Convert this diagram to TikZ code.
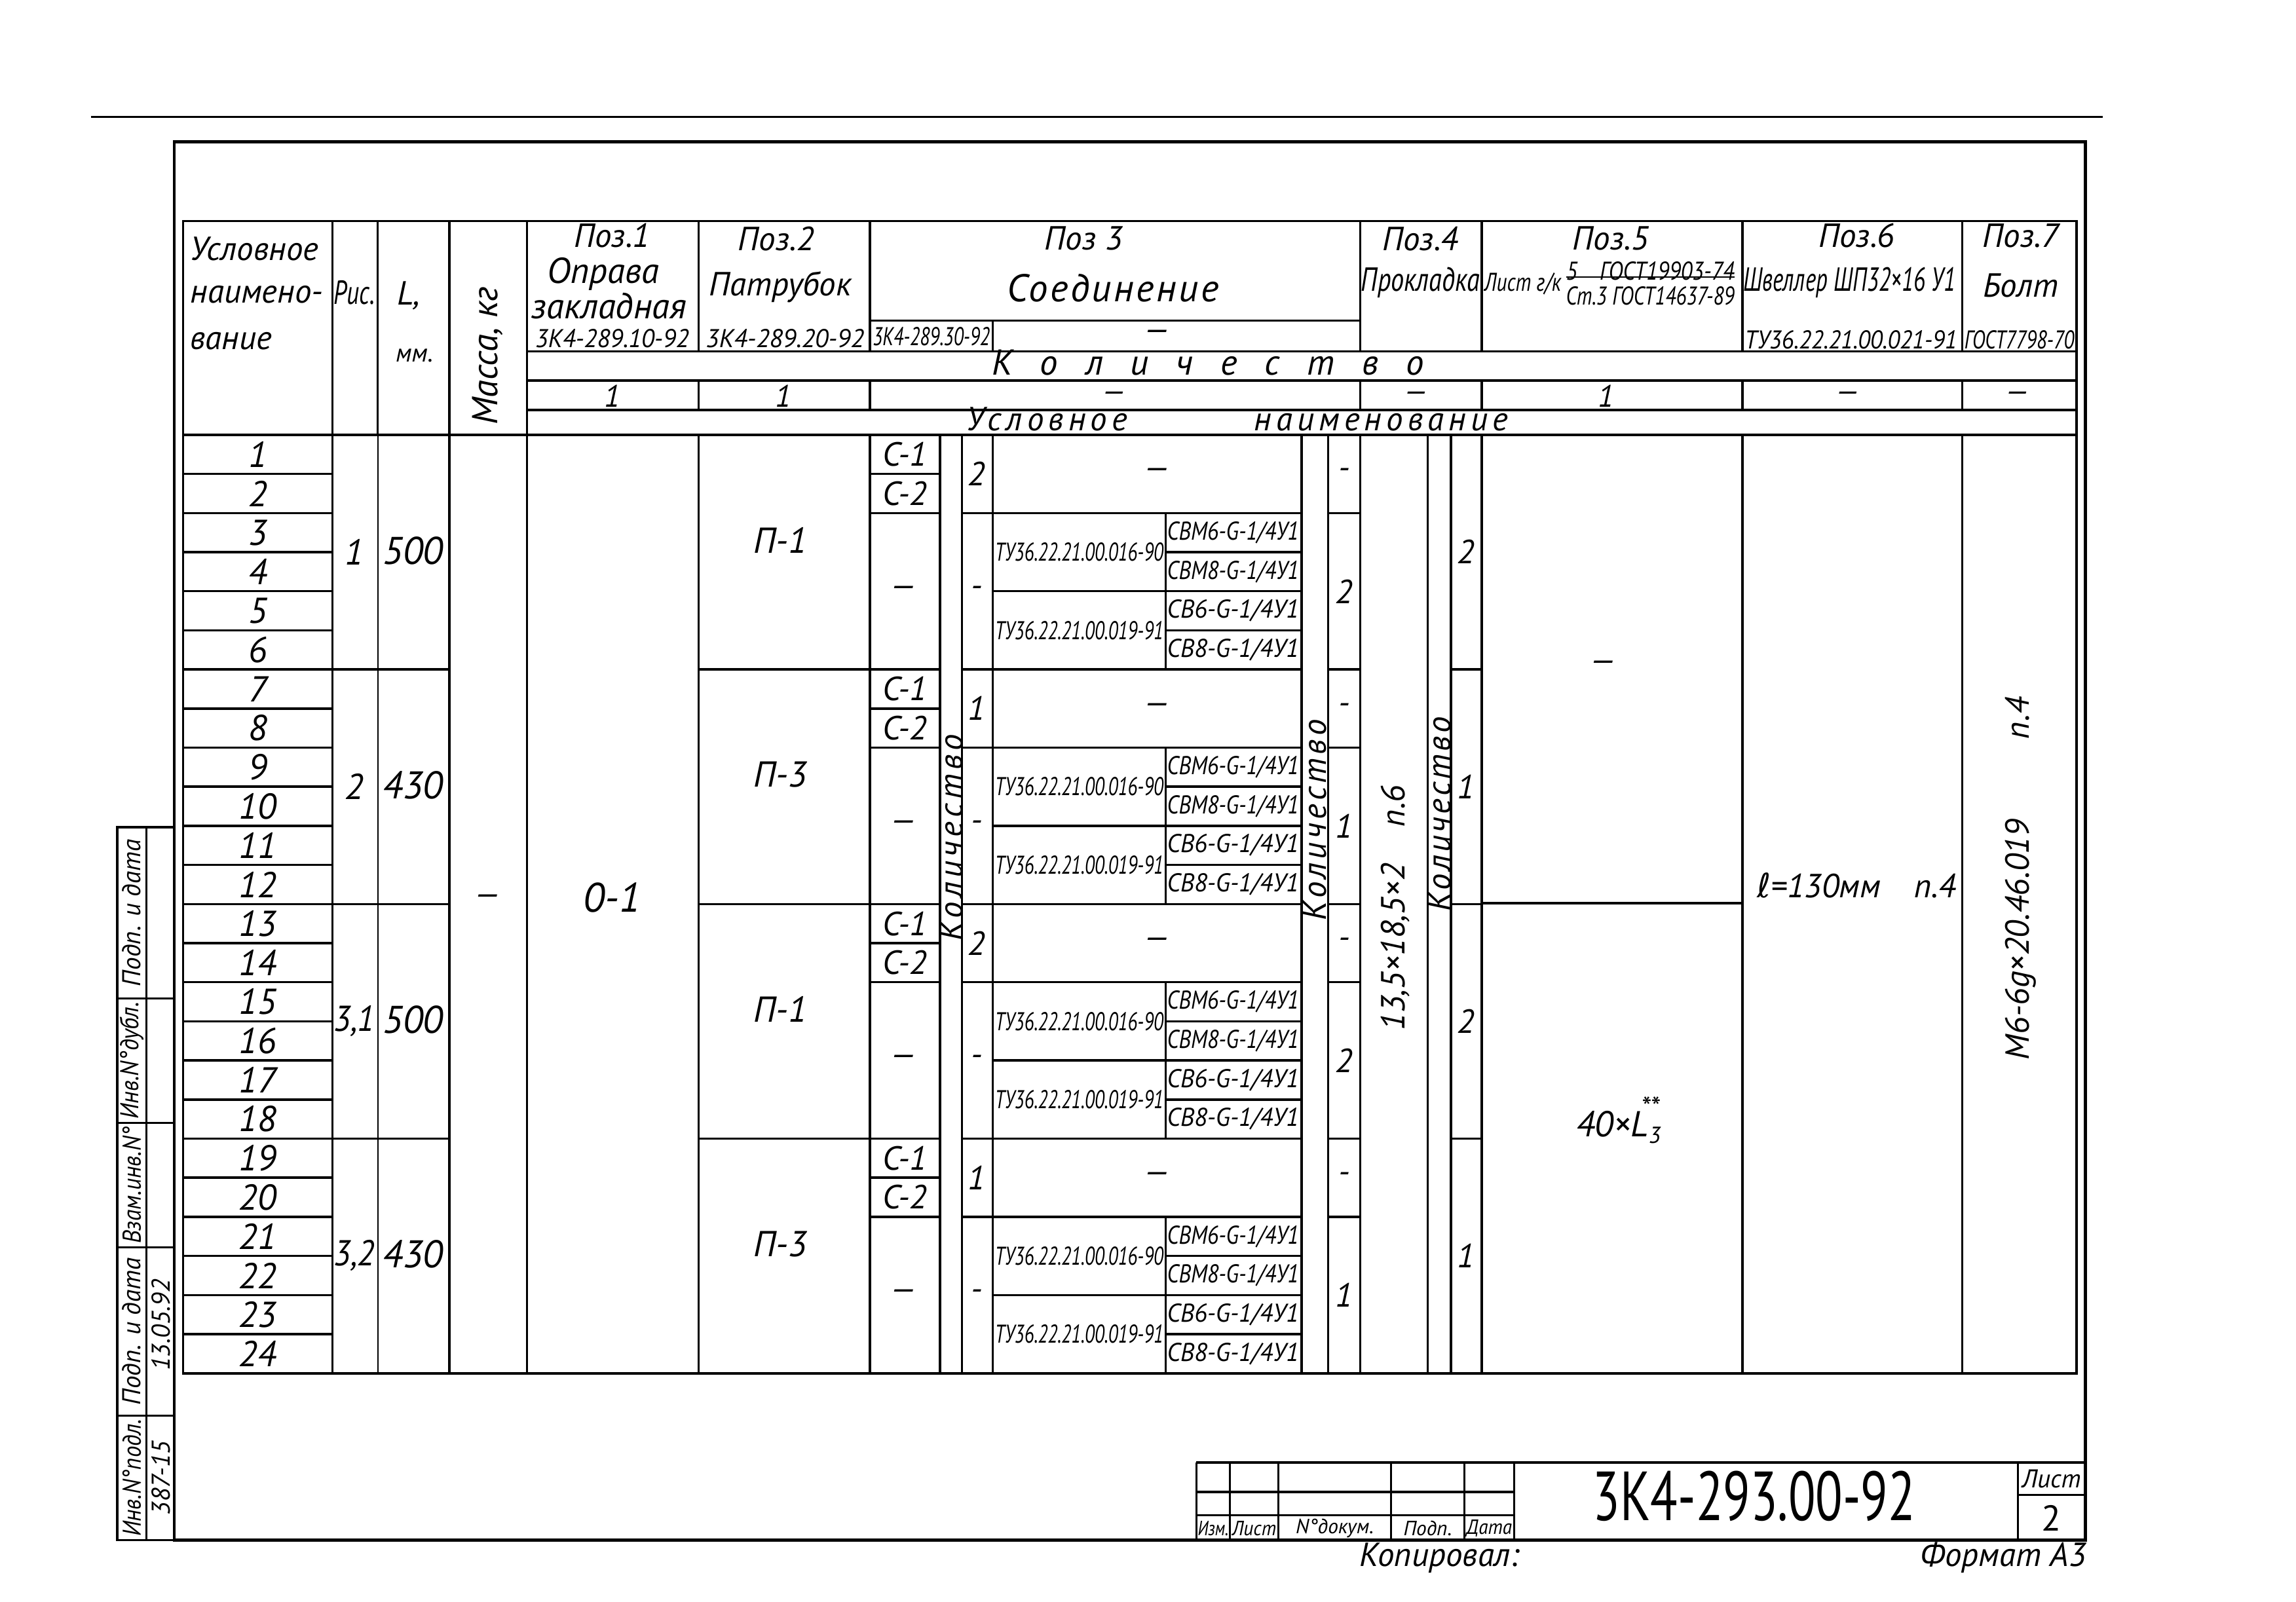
\documentclass[tikz,border=0pt]{standalone}
\usepackage{fontspec}
\setmainfont{PT Sans}
\newfontfamily\djv{DejaVu Sans}
\usepackage{graphicx}
\newsavebox\fitbx
\newcommand\fitto[2]{\sbox\fitbx{#2}\ifdim\wd\fitbx>#1\relax\resizebox{#1}{\ht\fitbx}{\usebox\fitbx}\else\usebox\fitbx\fi}
\newcommand\fsz[1]{\fontsize{#1}{#1}\selectfont\itshape}
\begin{document}
\begin{tikzpicture}[x=0.02cm,y=-0.02cm,
  T/.style={inner sep=0pt,outer sep=0pt,font=\fsz{13}},
  S/.style={inner sep=0pt,outer sep=0pt,font=\fsz{10}},
  grid/.style={line width=0.9pt},
  thin/.style={line width=0.5pt},
  frame/.style={line width=1.2pt}]
\useasboundingbox (0,0) rectangle (1568,1094);
% top rule and frame
\draw[line width=0.8pt] (62,80) -- (1436,80);
\draw[frame] (119,97) rectangle (1424,1052);
% table outline
\draw[grid] (125,151) rectangle (1418,938);
% header lines
\foreach \x in {227,258,307,360} \draw[grid] (\x,151) -- (\x,297);
\draw[grid] (360,240) -- (1418,240);
\draw[grid] (360,260) -- (1418,260);
\draw[grid] (360,280) -- (1418,280);
\draw[grid] (125,297) -- (1418,297);
\foreach \x in {477,594,929,1012,1190,1340} \draw[grid] (\x,151) -- (\x,240) (\x,260) -- (\x,280);
\draw[grid] (594,219) -- (929,219);
\draw[grid] (678,219) -- (678,240);
% body verticals
\foreach \x in {227,307,360,477,594,642,657,678,889,907,929,975,991,1012,1190,1340} \draw[grid] (\x,297) -- (\x,938);
\draw[thin] (258,297) -- (258,938);
% row lines of first column
\foreach \i in {1,...,23} \draw[grid] (125,{297+26.708*\i}) -- (227,{297+26.708*\i});
% group lines
\foreach \g in {1,2,3} {
  \pgfmathsetmacro\yy{297+160.25*\g}
  \draw[grid] (227,\yy) -- (307,\yy);
  \draw[grid] (477,\yy) -- (642,\yy);
  \draw[grid] (657,\yy) -- (889,\yy);
  \draw[grid] (907,\yy) -- (929,\yy);
  \draw[grid] (991,\yy) -- (1012,\yy);
}
\draw[grid] (1012,617) -- (1190,617);
% lines inside groups
\foreach \g in {0,...,3} {
  \pgfmathsetmacro\yz{297+160.25*\g}
  \draw[grid] (594,{\yz+26.708}) -- (642,{\yz+26.708});
  \draw[grid] (594,{\yz+53.417}) -- (642,{\yz+53.417});
  \draw[grid] (657,{\yz+53.417}) -- (889,{\yz+53.417});
  \draw[grid] (907,{\yz+53.417}) -- (929,{\yz+53.417});
  \draw[grid] (796,{\yz+53.417}) -- (796,{\yz+160.25});
  \draw[grid] (796,{\yz+80.125}) -- (889,{\yz+80.125});
  \draw[grid] (678,{\yz+106.83}) -- (889,{\yz+106.83});
  \draw[grid] (796,{\yz+133.54}) -- (889,{\yz+133.54});
}
% ---------- header texts
\node[T,anchor=west] (h1a) at (130,170) {\fitto{1.85cm}{Условное}};
\node[T,anchor=west] (h1b) at (130,201) {\fitto{1.85cm}{наимено-}};
\node[T,anchor=west] (h1c) at (130,233) {вание};
\node[T] (hric) at (242,200) {\fitto{0.56cm}{Рис.}};
\node[T] (hL) at (279,202) {L,};
\node[T,font=\fsz{10}] (hmm) at (283,243) {мм.};
\node[T,rotate=90,font=\fsz{14}] (hmass) at (333,243) {Масса, кг};
\node[T] (p1a) at (418,161) {Поз.1};
\node[T,font=\fsz{14}] (p1b) at (412,187) {Оправа};
\node[T,font=\fsz{14}] (p1c) at (416,209) {\fitto{2.2cm}{закладная}};
\node[S] (p1d) at (418,231) {\fitto{2.1cm}{3К4-289.10-92}};
\node[T] (p2a) at (530,163) {Поз.2};
\node[T] (p2b) at (533,196) {\fitto{2.0cm}{Патрубок}};
\node[S] (p2c) at (536,231) {\fitto{2.2cm}{3К4-289.20-92}};
\node[T] (p3a) at (740,163) {Поз 3};
\node[T,font=\fsz{15}] (p3b) at (760,197) {\addfontfeature{LetterSpace=6}Соединение};
\node[S] (p3c) at (636,230) {\fitto{1.6cm}{3К4-289.30-92}};
\node[T] (p3d) at (790,229) {—};
\node[T] (p4a) at (970,163) {Поз.4};
\node[T] (p4b) at (970,193) {\fitto{1.62cm}{Прокладка}};
\node[T] (p5a) at (1100,163) {Поз.5};
\node[S] (p5b) at (1040,194) {\fitto{1.05cm}{Лист г/к}};
\node[S] (p5c) at (1127,185) {\fitto{2.3cm}{5\quad ГОСТ19903-74}};
\node[S] (p5d) at (1127,202) {\fitto{2.3cm}{Ст.3 ГОСТ14637-89}};
\draw[thin] (p5c.south west) ++(0,-2) coordinate (fr1) -- (p5c.south east |- fr1);
\node[T] (p6a) at (1268,161) {Поз.6};
\node[T] (p6b) at (1263,193) {\fitto{2.9cm}{Швеллер ШП32×16 У1}};
\node[S] (p6c) at (1264,232) {\fitto{2.9cm}{ТУ36.22.21.00.021-91}};
\node[T] (p7a) at (1380,161) {Поз.7};
\node[T] (p7b) at (1380,195) {Болт};
\node[S] (p7c) at (1379,232) {\fitto{1.5cm}{ГОСТ7798-70}};
\node[T,font=\fsz{14},anchor=base] (kol) at (825,256) {\makebox[5.9cm][s]{К\hfil о\hfil л\hfil и\hfil ч\hfil е\hfil с\hfil т\hfil в\hfil о}};
\node[T,font=\fsz{12}] (q1) at (418,270.5) {1};
\node[T,font=\fsz{12}] (q2) at (535,270.5) {1};
\node[T,font=\fsz{12}] (q3) at (761,271) {—};
\node[T,font=\fsz{12}] (q4) at (967,271) {—};
\node[T,font=\fsz{12}] (q5) at (1097,270.5) {1};
\node[T,font=\fsz{12}] (q6) at (1262,271) {—};
\node[T,font=\fsz{12}] (q7) at (1378,271) {—};
\node[T,font=\fsz{13},anchor=base] (usl) at (845,294) {\addfontfeature{LetterSpace=14}\makebox[7.4cm][s]{Условное\hfil наименование}};
% ---------- body texts
\foreach \i in {1,...,24} \node[T,font=\fsz{14}] (n\i) at (176,{297+26.708*(\i-0.5)}) {\i};
\foreach \g/\ric/\len/\pp/\qa in {0/1/500/П-1/2, 1/2/430/П-3/1, 2/{3,1}/500/П-1/2, 3/{3,2}/430/П-3/1} {
  \pgfmathsetmacro\yz{297+160.25*\g}
  \node[T,font=\fsz{14}] (ric\g) at (242,{\yz+80}) {\fitto{0.56cm}{\ric}};
  \node[T,font=\fsz{15}] (len\g) at (282,{\yz+79}) {\len};
  \node[T,font=\fsz{14}] (pp\g) at (533,{\yz+72}) {\pp};
  \node[T] (ca\g) at (618,{\yz+13.35}) {\fitto{0.85cm}{С-1}};
  \node[T] (cb\g) at (618,{\yz+40.06}) {\fitto{0.85cm}{С-2}};
  \node[T] (cd\g) at (617,{\yz+107}) {—};
  \node[T] (qa\g) at (667,{\yz+26.7}) {\qa};
  \node[T] (qad\g) at (667,{\yz+107}) {-};
  \node[T] (dd\g) at (790,{\yz+26.7}) {—};
  \node[S] (tua\g) at (737,{\yz+80.1}) {\fitto{2.3cm}{ТУ36.22.21.00.016-90}};
  \node[S] (tub\g) at (737,{\yz+133.5}) {\fitto{2.3cm}{ТУ36.22.21.00.019-91}};
  \node[S] (sva\g) at (842,{\yz+66.8}) {\fitto{1.8cm}{СВМ6-G-1/4У1}};
  \node[S] (svb\g) at (842,{\yz+93.5}) {\fitto{1.8cm}{СВМ8-G-1/4У1}};
  \node[S] (svc\g) at (842,{\yz+120.2}) {\fitto{1.8cm}{СВ6-G-1/4У1}};
  \node[S] (svd\g) at (842,{\yz+146.9}) {\fitto{1.8cm}{СВ8-G-1/4У1}};
  \node[T] (qbd\g) at (918,{\yz+26.7}) {-};
  \node[T] (qb\g) at (918,{\yz+107}) {\qa};
  \node[T] (qc\g) at (1001,{\yz+80}) {\qa};
}
\node[T] (mass) at (333,615) {—};
\node[T,font=\fsz{16}] (o1) at (418,613) {0-1};
\node[T,rotate=90] (kv1) at (649.5,572) {\addfontfeature{LetterSpace=12}Количество};
\node[T,rotate=90] (kv2) at (898,560) {\addfontfeature{LetterSpace=10}Количество};
\node[T,rotate=90] (kv3) at (983,556) {\addfontfeature{LetterSpace=8}Количество};
\node[T,rotate=90] (pr) at (953,620) {13,5×18,5×2\hspace{0.5cm}п.6};
\node[T] (p5t) at (1095,455) {—};
\node[T,font=\fsz{14}] (p5b2) at (1105,765) {40×L\raisebox{-0.35ex}{\fontsize{9}{9}\selectfont 3}\hspace{-0.55em}\raisebox{1.1ex}{\fontsize{11}{11}\selectfont **}};
\node[T] (p6t) at (1268,605) {{\djv\itshape ℓ}=130мм\quad п.4};
\node[T,rotate=90] (p7t) at (1380,600) {М6-6g×20.46.019\hspace{1.1cm}п.4};
% ---------- left stamp
\draw[grid] (80,565) rectangle (119,1052);
\draw[grid] (100,565) -- (100,1052);
\foreach \y in {682,767,852,967} \draw[grid] (80,\y) -- (119,\y);
\node[T,font=\fsz{10},rotate=90] (st1) at (90,623.5) {\fitto{2.2cm}{Подп. и дата}};
\node[T,font=\fsz{10},rotate=90] (st2) at (90,724.5) {\fitto{1.6cm}{Инв.N°дубл.}};
\node[T,font=\fsz{10},rotate=90] (st3) at (90,809.5) {\fitto{1.6cm}{Взам.инв.N°}};
\node[T,font=\fsz{10},rotate=90] (st4) at (90,909.5) {\fitto{2.2cm}{Подп. и дата}};
\node[T,font=\fsz{10},rotate=90] (st5) at (90,1009.5) {\fitto{1.6cm}{Инв.N°подл.}};
\node[T,font=\fsz{10},rotate=90] (sv4) at (110,905) {\fitto{2.0cm}{13.05.92}};
\node[T,font=\fsz{10},rotate=90] (sv5) at (110,1009.5) {\fitto{1.6cm}{387-15}};
% ---------- title block
\draw[grid] (817,999) -- (1424,999);
\draw[grid] (817,999) -- (817,1052);
\foreach \x in {840,873,950,1000,1034,1378} \draw[grid] (\x,999) -- (\x,1052);
\draw[grid] (817,1019) -- (1034,1019);
\draw[grid] (817,1035) -- (1034,1035);
\draw[grid] (1378,1021) -- (1424,1021);
\node[T,font=\fsz{8}] (tb1) at (828.5,1044) {\fitto{0.42cm}{Изм.}};
\node[T,font=\fsz{8}] (tb2) at (856.5,1044) {\fitto{0.6cm}{Лист}};
\node[T,font=\fsz{8}] (tb3) at (911.5,1044) {\fitto{1.45cm}{N°докум.}};
\node[T,font=\fsz{8}] (tb4) at (975,1044) {\fitto{0.9cm}{Подп.}};
\node[T,font=\fsz{8}] (tb5) at (1017,1044) {\fitto{0.62cm}{Дата}};
\node[inner sep=0pt,font=\fontsize{27}{27}\selectfont] (title) at (1198,1022) {\scalebox{0.72}[1]{3К4-293.00-92}};
\node[T,font=\fsz{10}] (tbl) at (1401,1010) {Лист};
\node[inner sep=0pt,font=\fontsize{14}{14}\selectfont] (tbn) at (1401,1037) {2};
\node[T,font=\fsz{13}] (kop) at (983,1064) {Копировал:};
\node[T,font=\fsz{13}] (fmt) at (1368,1064) {Формат А3};
\end{tikzpicture}
\end{document}
